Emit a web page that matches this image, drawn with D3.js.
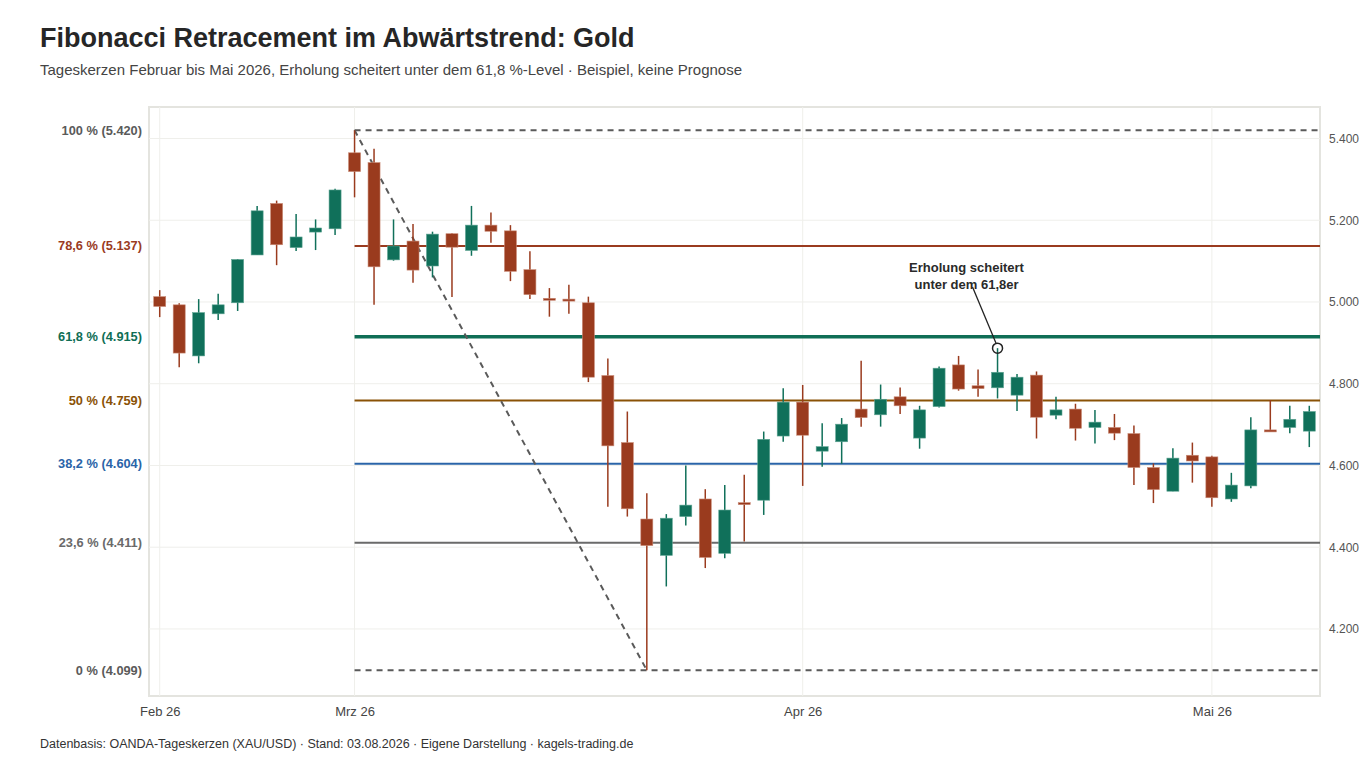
<!DOCTYPE html>
<html>
<head>
<meta charset="utf-8">
<script src="https://cdn.jsdelivr.net/npm/d3@7"></script>
<style>
  body { margin: 0; background: #fff; font-family: "Liberation Sans", Arial, sans-serif; }
</style>
</head>
<body>
<div id="chart"></div>
<script>
// trading days (OANDA daily candles)
var dates = [
  "2026-02-16","2026-02-17","2026-02-18","2026-02-19","2026-02-20",
  "2026-02-23","2026-02-24","2026-02-25","2026-02-26","2026-02-27",
  "2026-03-01","2026-03-02","2026-03-03","2026-03-04","2026-03-05","2026-03-06",
  "2026-03-09","2026-03-10","2026-03-11","2026-03-12","2026-03-13",
  "2026-03-16","2026-03-17","2026-03-18","2026-03-19","2026-03-20",
  "2026-03-23","2026-03-24","2026-03-25","2026-03-26","2026-03-27",
  "2026-03-30","2026-03-31",
  "2026-04-01","2026-04-02","2026-04-06","2026-04-07","2026-04-08","2026-04-09","2026-04-10",
  "2026-04-13","2026-04-14","2026-04-15","2026-04-16","2026-04-17",
  "2026-04-20","2026-04-21","2026-04-22","2026-04-23","2026-04-24",
  "2026-04-27","2026-04-28","2026-04-29","2026-04-30",
  "2026-05-01","2026-05-04","2026-05-05","2026-05-06","2026-05-07","2026-05-08"
];
var open  = [5013,4993,4868,4971,4998,5115,5241,5133,5171,5179,
             5365,5341,5103,5149,5088,5167,5126,5188,5174,5079,
             5009,5007,4998,4820,4656,4469,4380,4475,4518,4385,
             4509,4515,4672,4755,4635,4658,4738,4724,4768,4667,
             4744,4846,4795,4790,4772,4821,4723,4738,4693,4693,
             4678,4595,4537,4625,4621,4518,4550,4687,4693,4684];
var high  = [5029,4997,5007,5020,5105,5235,5248,5215,5202,5277,
             5420,5375,5202,5191,5172,5168,5235,5219,5188,5124,
             5034,5042,5013,4862,4732,4532,4481,4600,4542,4552,
             4577,4683,4789,4797,4703,4716,4856,4798,4791,4746,
             4842,4868,4835,4887,4824,4830,4768,4751,4736,4726,
             4698,4605,4642,4656,4624,4582,4718,4760,4746,4746];
var low   = [4963,4840,4850,4956,4978,5115,5090,5125,5127,5164,
             5256,4993,5101,5047,5060,5012,5113,5145,5051,5007,
             4964,4971,4804,4499,4475,4099,4304,4453,4349,4373,
             4414,4479,4658,4550,4597,4604,4695,4695,4726,4641,
             4742,4783,4768,4764,4733,4666,4713,4661,4654,4662,
             4552,4508,4537,4558,4499,4511,4544,4684,4679,4645];
var close = [4989,4875,4974,4993,5104,5223,5140,5159,5181,5274,
             5319,5086,5137,5078,5166,5134,5188,5173,5075,5018,
             5005,5003,4816,4648,4494,4404,4471,4503,4375,4491,
             4507,4664,4755,4674,4646,4701,4717,4762,4746,4736,
             4838,4787,4788,4828,4816,4718,4736,4691,4706,4679,
             4595,4541,4618,4611,4521,4552,4687,4685,4713,4732];

// Fibonacci levels (Hoch 5.420 -> Tief 4.099)
var fibRatios = ["100 %", "78,6 %", "61,8 %", "50 %", "38,2 %", "23,6 %", "0 %"];
var fibValues = [5420, 5137, 4915, 4759, 4604, 4411, 4099];
var fibColors = ["#5a5a5a", "#9a3b1f", "#0f6e56", "#8a5206", "#2a64a8", "#6a6a6a", "#5a5a5a"];
var fibWidths = [2, 2, 3.5, 2, 2, 2, 2];
var fibDashed = [true, false, false, false, false, false, true];
var yTicks = [4200, 4400, 4600, 4800, 5000, 5200, 5400];

var swingHigh = 10, swingLow = 25, noteIdx = 43;

var upColor = "#10705a", downColor = "#9a3b1e";

var de = d3.timeFormatLocale({
  dateTime: "%A, der %e. %B %Y, %X", date: "%d.%m.%Y", time: "%H:%M:%S",
  periods: ["AM", "PM"],
  days: ["Sonntag","Montag","Dienstag","Mittwoch","Donnerstag","Freitag","Samstag"],
  shortDays: ["So","Mo","Di","Mi","Do","Fr","Sa"],
  months: ["Januar","Februar","März","April","Mai","Juni","Juli","August","September","Oktober","November","Dezember"],
  shortMonths: ["Jan","Feb","Mrz","Apr","Mai","Jun","Jul","Aug","Sep","Okt","Nov","Dez"]
});
var numDe = d3.formatLocale({decimal: ",", thousands: ".", grouping: [3], currency: ["", " €"]});
var fmtNum = numDe.format(",.0f");
var fmtMonth = de.format("%b %y");
var parse = d3.timeParse("%Y-%m-%d");

var W = 1360, H = 770;
var margin = {top: 107, right: 40, bottom: 74, left: 149};
var width = W - margin.left - margin.right;
var height = H - margin.top - margin.bottom;

var root = d3.select("#chart").append("svg")
    .attr("width", W)
    .attr("height", H)
    .style("font-family", "'Liberation Sans', Arial, sans-serif");

root.append("text")
    .attr("x", 40).attr("y", 47)
    .style("font-size", "27px").style("font-weight", "bold").attr("fill", "#262626")
    .text("Fibonacci Retracement im Abwärtstrend: Gold");
root.append("text")
    .attr("x", 40).attr("y", 75)
    .style("font-size", "15px").attr("fill", "#444")
    .text("Tageskerzen Februar bis Mai 2026, Erholung scheitert unter dem 61,8 %-Level · Beispiel, keine Prognose");
root.append("text")
    .attr("x", 40).attr("y", 748)
    .style("font-size", "12.5px").attr("fill", "#333")
    .text("Datenbasis: OANDA-Tageskerzen (XAU/USD) · Stand: 03.08.2026 · Eigene Darstellung · kagels-trading.de");

var svg = root.append("g")
    .attr("transform", "translate(" + margin.left + "," + margin.top + ")");

var x = d3.scalePoint()
    .domain(dates)
    .range([0, width])
    .padding(0.55);
var y = d3.scaleLinear()
    .domain([4036, 5477])
    .range([height, 0]);

// panel
svg.append("rect")
    .attr("width", width).attr("height", height)
    .attr("fill", "#fff").attr("stroke", "#e4e4df").attr("stroke-width", 2);

svg.selectAll(".hgrid")
    .data(yTicks).enter().append("line")
    .attr("x1", 0).attr("x2", width)
    .attr("y1", function(d) { return y(d); })
    .attr("y2", function(d) { return y(d); })
    .attr("stroke", "#efefeb").attr("stroke-width", 1);

var monthStarts = dates.filter(function(d, i) {
    return i == 0 || d.slice(0, 7) != dates[i - 1].slice(0, 7);
});
svg.selectAll(".vgrid")
    .data(monthStarts).enter().append("line")
    .attr("x1", function(d) { return x(d); })
    .attr("x2", function(d) { return x(d); })
    .attr("y1", 0).attr("y2", height)
    .attr("stroke", "#efefeb").attr("stroke-width", 1);

// axes
var xAxis = svg.append("g")
    .attr("transform", "translate(0," + height + ")")
    .call(d3.axisBottom(x).tickValues(monthStarts).tickSize(0).tickPadding(11)
        .tickFormat(function(d) { return fmtMonth(parse(d)); }));
xAxis.select(".domain").remove();
xAxis.selectAll("text").style("font-size", "13px").attr("fill", "#444")
    .style("font-family", "'Liberation Sans', Arial, sans-serif");

var yAxis = svg.append("g")
    .attr("transform", "translate(" + width + ",0)")
    .call(d3.axisRight(y).tickValues(yTicks).tickSize(0).tickPadding(9).tickFormat(fmtNum));
yAxis.select(".domain").remove();
yAxis.selectAll("text").style("font-size", "12px").attr("fill", "#555")
    .style("font-family", "'Liberation Sans', Arial, sans-serif");

// fib levels
var x0 = x(dates[swingHigh]);
fibValues.forEach(function(v, i) {
    svg.append("line")
        .attr("x1", x0).attr("x2", width)
        .attr("y1", y(v)).attr("y2", y(v))
        .attr("stroke", fibColors[i])
        .attr("stroke-width", fibWidths[i])
        .attr("stroke-dasharray", fibDashed[i] ? "6,5" : null);
    svg.append("text")
        .attr("x", -7).attr("y", y(v))
        .attr("dy", "0.35em")
        .attr("text-anchor", "end")
        .style("font-size", "12.8px").style("font-weight", "bold")
        .attr("fill", fibColors[i])
        .text(fibRatios[i] + " (" + fmtNum(v) + ")");
});

// swing line
svg.append("line")
    .attr("x1", x0).attr("y1", y(high[swingHigh]))
    .attr("x2", x(dates[swingLow])).attr("y2", y(low[swingLow]))
    .attr("stroke", "#5a5a5a").attr("stroke-width", 2).attr("stroke-dasharray", "6,5");

// candles
var bw = 12;
var candles = svg.selectAll(".candle")
    .data(dates).enter().append("g")
    .attr("class", "candle");
candles.append("line")
    .attr("x1", function(d) { return x(d); })
    .attr("x2", function(d) { return x(d); })
    .attr("y1", function(d, i) { return y(high[i]); })
    .attr("y2", function(d, i) { return y(low[i]); })
    .attr("stroke", function(d, i) { return close[i] >= open[i] ? upColor : downColor; })
    .attr("stroke-width", 1.5);
candles.append("rect")
    .attr("x", function(d) { return x(d) - bw / 2; })
    .attr("width", bw)
    .attr("y", function(d, i) { return y(Math.max(open[i], close[i])); })
    .attr("height", function(d, i) { return Math.max(2, Math.abs(y(open[i]) - y(close[i]))); })
    .attr("fill", function(d, i) { return close[i] >= open[i] ? upColor : downColor; })
    .attr("stroke", function(d, i) { return close[i] >= open[i] ? "#5fa593" : "#c98a76"; })
    .attr("stroke-width", 0.6);

// annotation
var nx = x(dates[noteIdx]), ny = y(high[noteIdx]);
svg.append("line")
    .attr("x1", nx - 25).attr("y1", 180)
    .attr("x2", nx - 1.5).attr("y2", ny - 5)
    .attr("stroke", "#222").attr("stroke-width", 1.3);
svg.append("circle")
    .attr("cx", nx).attr("cy", ny).attr("r", 5)
    .attr("fill", "none").attr("stroke", "#222").attr("stroke-width", 1.5);
var note = svg.append("text")
    .attr("x", nx - 31).attr("y", 165)
    .attr("text-anchor", "middle")
    .style("font-size", "13px").style("font-weight", "bold").attr("fill", "#2a2a2a");
note.append("tspan").attr("x", nx - 31).attr("dy", 0).text("Erholung scheitert");
note.append("tspan").attr("x", nx - 31).attr("dy", 17).text("unter dem 61,8er");
</script>
</body>
</html>
